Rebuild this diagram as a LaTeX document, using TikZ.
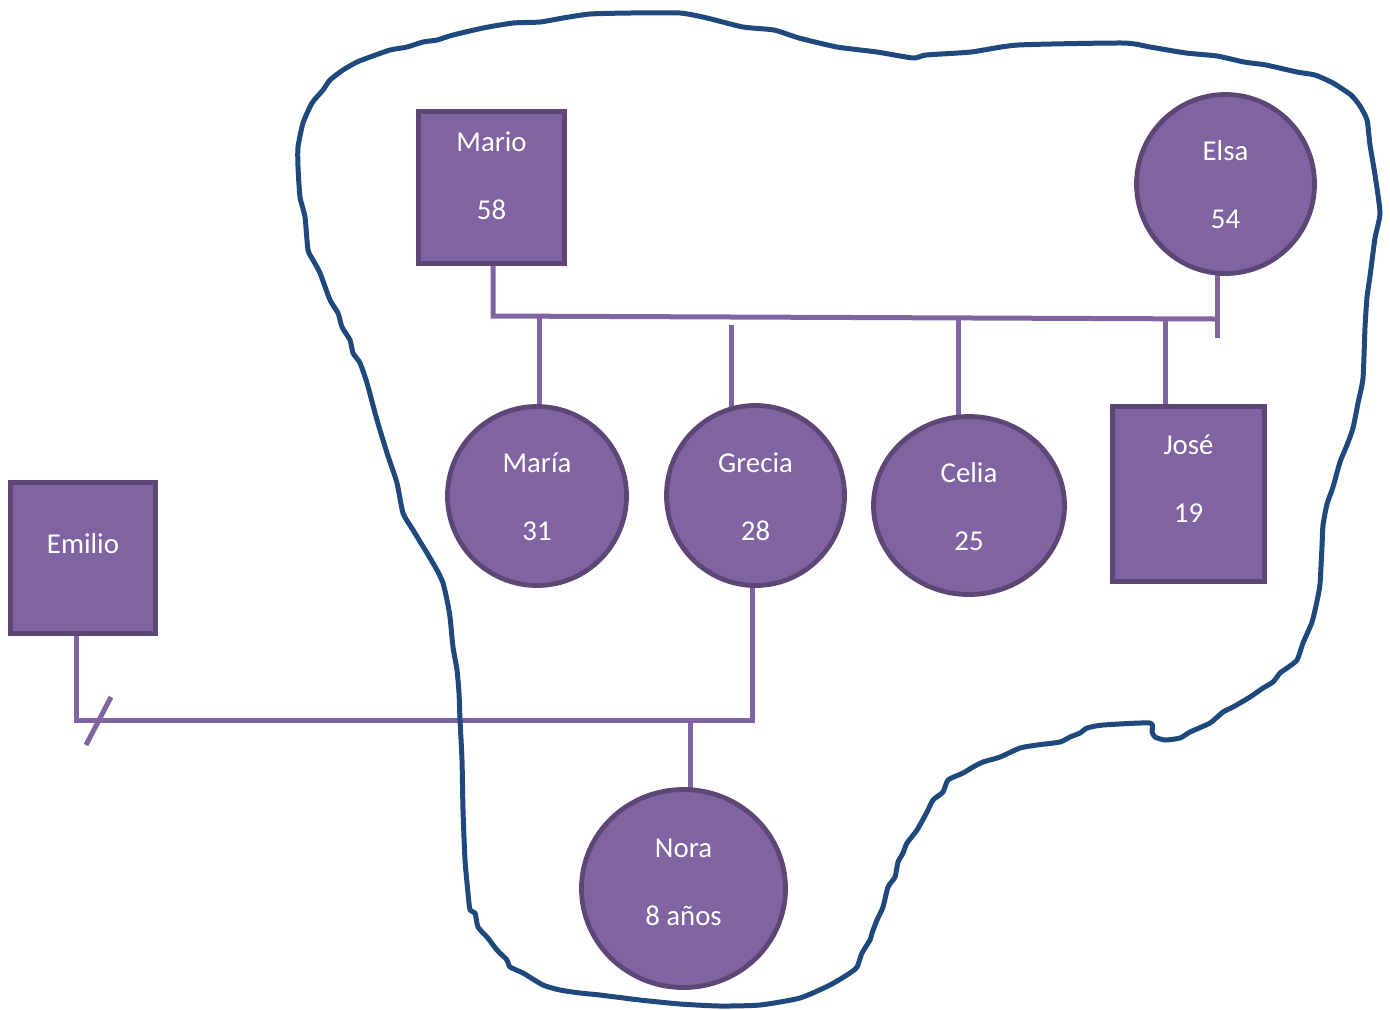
\documentclass[tikz,border=0pt]{standalone}
\usepackage{fontspec}
\setmainfont{Carlito}
\usepackage{xcolor}
\usepackage{tikz}
\usetikzlibrary{shapes.geometric, backgrounds}
\definecolor{personfill}{RGB}{128,100,162}
\definecolor{personborder}{RGB}{92,71,118}
\definecolor{treeline}{RGB}{128,100,162}
\definecolor{blobblue}{RGB}{31,73,125}
% name and age, raised by the optional amount
\newcommand{\persontext}[3][0pt]{\raisebox{#1}[\height][\depth]{\begin{tabular}{@{}c@{}}#2\\[16.6pt]#3\end{tabular}}}
\tikzset{
    person/.style={draw=personborder, line width=2.4pt, fill=personfill, text=white, font=\fontsize{14.4}{17.4}\selectfont, inner sep=0pt},
    male/.style={person, rectangle},
    female/.style={person, ellipse},
    link/.style={draw=treeline, line width=2.5pt, line join=miter},
    blob/.style={draw=blobblue, line width=2.5pt, line join=round, line cap=round}
}

\begin{document}
\begin{tikzpicture} [
    x=0.5pt, y=-0.5pt
]
    \useasboundingbox (0,0) rectangle (1390,1009);

    % Parents
    \node[male, minimum width=73pt, minimum height=76pt] (mario) at (491.5,187.5) {\persontext[4.6pt]{Mario}{58}};
    \node[female, minimum width=89pt, minimum height=89.5pt] (elsa) at (1225.5,184) {\persontext[-1.6pt]{Elsa}{54}};

    % Children
    \node[female, minimum width=89.5pt, minimum height=89.5pt] (maria) at (537,496) {\persontext[-1.8pt]{María}{31}};
    \node[female, minimum width=89pt, minimum height=90pt] (grecia) at (755.5,495.5) {\persontext[-1.8pt]{Grecia}{28}};
    \node[female, minimum width=95.5pt, minimum height=89pt] (celia) at (969,505.5) {\persontext[-2pt]{Celia}{25}};
    \node[male, minimum width=76pt, minimum height=87.5pt] (jose) at (1188.5,494) {\persontext[6.4pt]{José}{19}};

    % Grecia's ex-partner and daughter
    \node[male, minimum width=72.5pt, minimum height=75.5pt] (emilio) at (83,558) {\raisebox{7pt}[\height][\depth]{Emilio}};
    \node[female, minimum width=102pt, minimum height=99pt] (nora) at (683.5,888.5) {\persontext[1.9pt]{Nora}{8 años}};

    % Junction points
    \coordinate (bar_l) at (493,316);
    \coordinate (bar_r) at (1217,319);
    \coordinate (elsa_end) at (1217,338);
    \coordinate (c_maria) at (539,316.5);
    \coordinate (c_grecia) at (731,325);
    \coordinate (c_celia) at (958,318.5);
    \coordinate (c_jose) at (1165,319);
    \coordinate (bar2_l) at (76,720);
    \coordinate (bar2_r) at (752,720);
    \coordinate (c_nora) at (690,720);

    \begin{scope}[on background layer]
        % Mario + Elsa
        \draw[link] (bar_l |- mario.center) -- (bar_l) -- (bar_r);
        \draw[link] (elsa_end |- elsa.center) -- (elsa_end);
        \draw[link] (c_maria) -- (c_maria |- maria.center);
        \draw[link] (c_grecia) -- (c_grecia |- grecia.center);
        \draw[link] (c_celia) -- (c_celia |- celia.center);
        \draw[link] (c_jose) -- (c_jose |- jose.center);

        % Emilio + Grecia
        \draw[link] (bar2_l |- emilio.center) -- (bar2_l) -- (bar2_r) -- (bar2_r |- grecia.center);
        \draw[link] (c_nora) -- (c_nora |- nora.center);
    \end{scope}

    % separation mark
    \draw[link] ([xshift=5pt, yshift=-12.5pt]bar2_l) -- ++(25,-48);

    % household outline
    \draw[blob] plot[smooth cycle, tension=0.35] coordinates {
        (590,14) (630,13) (680,13) (707,18) (743,27) (774,30) (799,38) (837,47) (877,52) (913,58) (926,55)
        (971,52) (1018,45) (1123,43) (1150,47) (1186,53) (1217,56) (1244,62) (1266,65) (1297,72) (1315,75)
        (1333,83) (1351,95) (1360,106) (1367,120) (1370,145) (1375,175) (1380,213) (1375,238) (1370,276)
        (1367,297) (1365,327) (1363,378) (1358,403) (1353,428) (1347,445) (1340,462) (1333,487) (1327,504)
        (1323,525) (1322,546) (1320,584) (1317,601) (1312,622) (1303,643) (1297,660) (1287,668) (1280,673)
        (1273,682) (1263,688) (1250,697) (1233,707) (1223,712) (1210,723) (1190,732) (1180,738) (1165,740)
        (1155,737) (1152,732) (1150,723) (1103,725) (1087,728) (1080,733) (1070,737) (1060,742) (1037,745)
        (1020,748) (1000,757) (983,762) (973,767) (963,773) (948,780) (943,792) (933,800) (927,812) (917,830)
        (907,843) (903,853) (898,862) (895,877) (888,887) (883,907) (877,920) (872,933) (870,940) (862,953)
        (857,967) (850,973) (830,985) (800,998) (760,1005) (720,1006) (680,1004) (640,1000) (600,995)
        (580,993) (560,990) (543,985) (523,973) (510,967) (507,960) (497,950) (487,937) (478,927) (475,913)
        (470,910) (468,893) (465,860) (463,810) (462,760) (460,720) (459,693) (457,670) (453,647) (450,617)
        (447,600) (443,583) (437,570) (427,553) (413,530) (403,513) (397,483) (387,453) (377,420) (367,383)
        (360,363) (353,353) (350,340) (342,327) (338,313) (330,300) (320,273) (313,260) (308,250) (305,217)
        (300,197) (298,167) (298,147) (303,123) (312,103) (323,90) (330,80) (343,70) (357,62) (370,57)
        (390,50) (407,47) (423,42) (437,40) (453,35) (483,28) (513,23) (540,22) (563,18)
    };
\end{tikzpicture}
\end{document}
